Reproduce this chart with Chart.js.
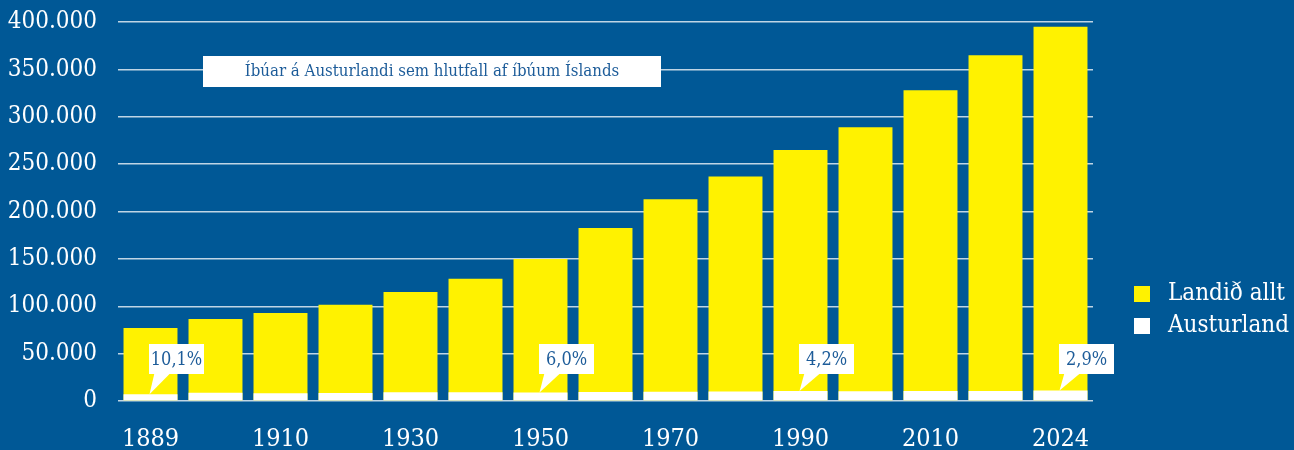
<!DOCTYPE html>
<html>
<head>
<meta charset="utf-8">
<script src="https://cdn.jsdelivr.net/npm/chart.js@4.4.1/dist/chart.umd.min.js"></script>
<style>
  html, body { margin: 0; padding: 0; background: #005896; }
  #wrap { width: 1294px; height: 450px; }
</style>
</head>
<body>
<div id="wrap"><canvas id="ibuar"></canvas></div>
<script>
// Gögn lesin af myndinni
const years = ['1889', '1901', '1910', '1920', '1930', '1940', '1950', '1960', '1970', '1980', '1990', '2000', '2010', '2020', '2024'];
const landidAllt = [77000, 86500, 93000, 101500, 115000, 129000, 150000, 182500, 213000, 237000, 265000, 289000, 328000, 365000, 395000];
const austurland = [7200, 8600, 8300, 8400, 9200, 9300, 8900, 9500, 9700, 9900, 10500, 10300, 10500, 10600, 11000];
const hlutfallIdx = [0, 6, 10, 14];
const hlutfallText = ['10,1%', '6,0%', '4,2%', '2,9%'];
const titill = 'Íbúar á Austurlandi sem hlutfall af íbúum Íslands';

const FONT = '"DejaVu Serif Condensed", "DejaVu Serif", serif';
const TEXTBLAR = '#1d5c99';
const GULUR = '#fff200';

function punktar(v) {
    return String(v).replace(/\B(?=(\d{3})+(?!\d))/g, '.');
}

// Talblöðrur með hlutfalli og titilkassi
const skyringar = {
    id: 'skyringar',
    afterDatasetsDraw(chart) {
        const ctx = chart.ctx;
        const xs = chart.scales.x;
        const ys = chart.scales.y;
        const base = ys.getPixelForValue(0);
        ctx.save();
        hlutfallIdx.forEach((i, k) => {
            const x = xs.getPixelForValue(i);
            const tipY = ys.getPixelForValue(austurland[i]);
            const w = 55, h = 30;
            const left = x - 1.5;
            const top = base - 57;
            ctx.fillStyle = '#ffffff';
            ctx.beginPath();
            ctx.moveTo(x + 4, top + h - 1);
            ctx.lineTo(x + 20, top + h - 1);
            ctx.lineTo(x - 1, tipY);
            ctx.closePath();
            ctx.fill();
            ctx.fillRect(left, top, w, h);
            ctx.fillStyle = TEXTBLAR;
            ctx.font = '18px ' + FONT;
            ctx.textAlign = 'center';
            ctx.textBaseline = 'middle';
            ctx.fillText(hlutfallText[k], left + w / 2, top + h / 2 + 1);
        });

        // titill
        ctx.fillStyle = '#ffffff';
        ctx.fillRect(203, 56, 458, 31);
        ctx.fillStyle = TEXTBLAR;
        ctx.font = '16.7px ' + FONT;
        ctx.textAlign = 'center';
        ctx.textBaseline = 'middle';
        ctx.fillText(titill, 432, 72);
        ctx.restore();
    },
    afterDraw(chart) {
        // skýringar til hægri
        const ctx = chart.ctx;
        const items = chart.data.datasets;
        ctx.save();
        items.forEach((ds, k) => {
            const y = 294 + k * 32;
            ctx.fillStyle = ds.backgroundColor;
            ctx.fillRect(1134, y - 8, 16, 16);
            ctx.fillStyle = '#ffffff';
            ctx.font = '24px ' + FONT;
            ctx.textAlign = 'left';
            ctx.textBaseline = 'middle';
            ctx.fillText(ds.label, 1168, y);
        });
        ctx.restore();
    }
};

const ctx = document.getElementById('ibuar').getContext('2d');
new Chart(ctx, {
    type: 'bar',
    data: {
        labels: years,
        datasets: [
            {
                label: 'Landið allt',
                data: landidAllt,
                backgroundColor: GULUR,
                order: 2
            },
            {
                label: 'Austurland',
                data: austurland,
                backgroundColor: '#ffffff',
                order: 1
            }
        ]
    },
    options: {
        responsive: true,
        maintainAspectRatio: false,
        animation: false,
        layout: { padding: { top: 22, right: 201, left: 0, bottom: 0 } },
        datasets: { bar: { barPercentage: 0.83, categoryPercentage: 1 } },
        plugins: {
            legend: { display: false },
            tooltip: { enabled: false }
        },
        scales: {
            x: {
                stacked: true,
                grid: { display: false },
                border: { display: false },
                ticks: {
                    autoSkip: false,
                    maxRotation: 0,
                    color: '#ffffff',
                    font: { family: FONT, size: 25 },
                    padding: 15,
                    callback: (v, i) => (i % 2 === 0 ? years[i] : '')
                },
                afterFit: s => { s.height = 49; }
            },
            y: {
                min: 0,
                max: 400000,
                grid: {
                    color: 'rgba(255,255,255,0.75)',
                    lineWidth: 1.5,
                    drawTicks: true,
                    tickLength: 21,
                    tickColor: 'rgba(0,0,0,0)'
                },
                border: { display: false },
                ticks: {
                    stepSize: 50000,
                    color: '#ffffff',
                    font: { family: FONT, size: 24 },
                    padding: 0,
                    callback: v => punktar(v)
                },
                afterFit: s => { s.width = 118; }
            }
        }
    },
    plugins: [skyringar]
});
</script>
</body>
</html>
